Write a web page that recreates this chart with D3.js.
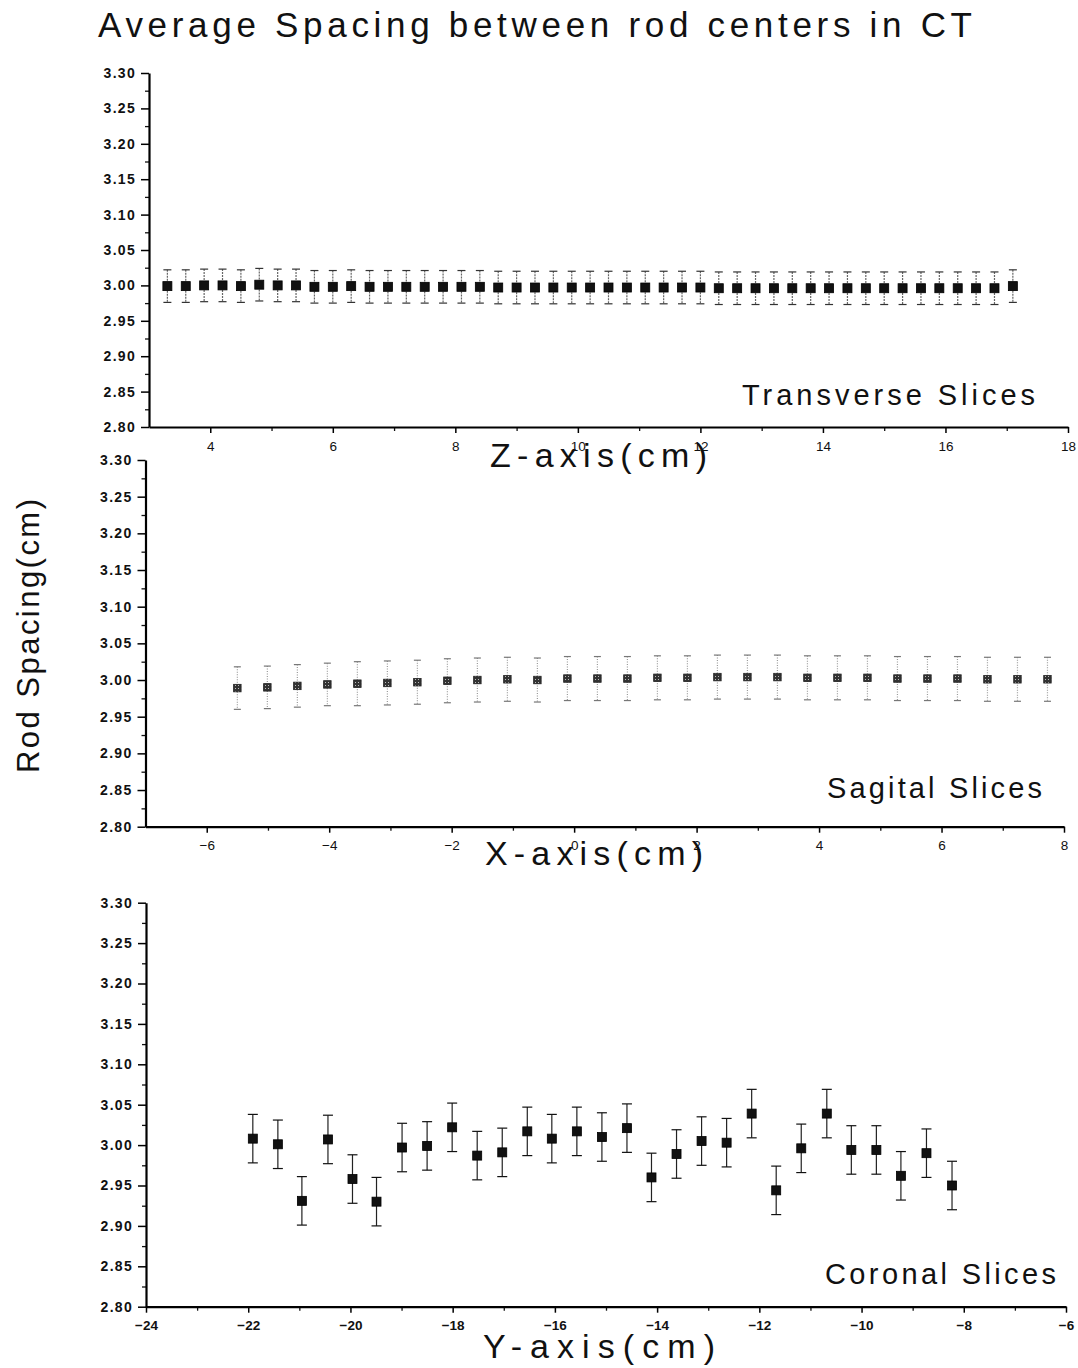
<!DOCTYPE html>
<html><head><meta charset="utf-8">
<script src="https://cdn.jsdelivr.net/npm/d3@7"></script>
<style>
body{margin:0;background:#fff}
text{font-family:"Liberation Sans",Arial,Helvetica,sans-serif;fill:#111}
</style>
</head><body>
<svg id="chart" width="1078" height="1368"></svg>
<script>
// ---------------- data ----------------
const titleText = "Average Spacing between rod centers in CT";
const yAxisTitle = "Rod Spacing(cm)";
const yTickValues = [2.80, 2.85, 2.90, 2.95, 3.00, 3.05, 3.10, 3.15, 3.20, 3.25, 3.30];
const yMinorValues = [2.825, 2.875, 2.925, 2.975, 3.025, 3.075, 3.125, 3.175, 3.225, 3.275];

// Transverse slices (Z-axis)
const transverseX = [3.3,3.6,3.9,4.2,4.5,4.8,5.1,5.4,5.7,6.0,6.3,6.6,6.9,7.2,7.5,7.8,8.1,8.4,8.7,9.0,9.3,9.6,9.9,10.2,10.5,10.8,11.1,11.4,11.7,12.0,12.3,12.6,12.9,13.2,13.5,13.8,14.1,14.4,14.7,15.0,15.3,15.6,15.9,16.2,16.5,16.8,17.1];
const transverseY = [2.999,2.999,3.000,3.000,2.999,3.001,3.000,3.000,2.998,2.998,2.999,2.998,2.998,2.998,2.998,2.998,2.998,2.998,2.997,2.997,2.997,2.997,2.997,2.997,2.997,2.997,2.997,2.997,2.997,2.997,2.996,2.996,2.996,2.996,2.996,2.996,2.996,2.996,2.996,2.996,2.996,2.996,2.996,2.996,2.996,2.996,2.999];
const transverseErr = [0.023,0.023,0.023,0.023,0.023,0.023,0.023,0.023,0.023,0.023,0.023,0.023,0.023,0.023,0.023,0.023,0.023,0.023,0.023,0.023,0.023,0.023,0.023,0.023,0.023,0.023,0.023,0.023,0.023,0.023,0.023,0.023,0.023,0.023,0.023,0.023,0.023,0.023,0.023,0.023,0.023,0.023,0.023,0.023,0.023,0.023,0.023];
const transverseXTicks = [4,6,8,10,12,14,16,18];
const transverseXMinor = [5,7,9,11,13,15,17];

// Sagital slices (X-axis)
const sagitalX = [-5.50,-5.01,-4.52,-4.03,-3.54,-3.05,-2.56,-2.07,-1.58,-1.09,-0.60,-0.11,0.38,0.87,1.36,1.85,2.34,2.83,3.32,3.81,4.30,4.79,5.28,5.77,6.26,6.75,7.24,7.73];
const sagitalY = [2.989,2.990,2.992,2.994,2.995,2.996,2.997,2.999,3.000,3.001,3.000,3.002,3.002,3.002,3.003,3.003,3.004,3.004,3.004,3.003,3.003,3.003,3.002,3.002,3.002,3.001,3.001,3.001];
const sagitalErr = [0.029,0.029,0.029,0.029,0.030,0.030,0.030,0.030,0.030,0.030,0.030,0.030,0.030,0.030,0.030,0.030,0.030,0.030,0.030,0.030,0.030,0.030,0.030,0.030,0.030,0.030,0.030,0.030];
const sagitalXTicks = [-6,-4,-2,0,2,4,6,8];
const sagitalXMinor = [-5,-3,-1,1,3,5,7];

// Coronal slices (Y-axis)
const coronalX = [-21.91,-21.42,-20.95,-20.44,-19.96,-19.49,-18.99,-18.50,-18.01,-17.52,-17.03,-16.54,-16.06,-15.57,-15.08,-14.59,-14.11,-13.62,-13.13,-12.64,-12.15,-11.67,-11.18,-10.68,-10.20,-9.71,-9.23,-8.73,-8.23];
const coronalY = [3.008,3.001,2.931,3.007,2.958,2.930,2.997,2.999,3.022,2.987,2.991,3.017,3.008,3.017,3.010,3.021,2.960,2.989,3.005,3.003,3.039,2.944,2.996,3.039,2.994,2.994,2.962,2.990,2.950];
const coronalErr = [0.030,0.030,0.030,0.030,0.030,0.030,0.030,0.030,0.030,0.030,0.030,0.030,0.030,0.030,0.030,0.030,0.030,0.030,0.030,0.030,0.030,0.030,0.030,0.030,0.030,0.030,0.030,0.030,0.030];
const coronalXTicks = [-24,-22,-20,-18,-16,-14,-12,-10,-8,-6];
const coronalXMinor = [-23,-21,-19,-17,-15,-13,-11,-9,-7];

const panelNames = ["Transverse Slices", "Sagital Slices", "Coronal Slices"];
const xTitles = ["Z-axis(cm)", "X-axis(cm)", "Y-axis(cm)"];

// ---------------- drawing ----------------
const svg = d3.select("#chart");
svg.append("rect").attr("width",1078).attr("height",1368).attr("fill","#fff");

const defs = svg.append("defs");
const pat = defs.append("pattern").attr("id","hatch").attr("patternUnits","userSpaceOnUse")
  .attr("width",3).attr("height",3);
pat.append("rect").attr("width",3).attr("height",3).attr("fill","#333");
pat.append("rect").attr("x",1).attr("y",1).attr("width",1).attr("height",1).attr("fill","#bbb");

function stretchText(sel, len){
  sel.attr("textLength", len).attr("lengthAdjust","spacing");
}

// title
stretchText(svg.append("text").attr("x",98).attr("y",37)
  .attr("font-size",35).text(titleText), 874);

// rotated y title
stretchText(svg.append("text")
  .attr("transform","translate(39,636) rotate(-90)")
  .attr("text-anchor","middle").attr("font-size",31).text(yAxisTitle), 274);

const panels = [
  {xs:transverseX, ys:transverseY, es:transverseErr, dom:[3,18], xr:[149,1068], yr:[427,73],
   ticks:transverseXTicks, minor:transverseXMinor, name:panelNames[0], nameX:742, nameY:405, nameLen:293,
   xt:xTitles[0], xtX:490, xtY:467, xtLen:217, style:"top", tickWeight:"normal"},
  {xs:sagitalX, ys:sagitalY, es:sagitalErr, dom:[-7,8], xr:[145.5,1064], yr:[826.7,460],
   ticks:sagitalXTicks, minor:sagitalXMinor, name:panelNames[1], nameX:827, nameY:798, nameLen:215,
   xt:xTitles[1], xtX:485, xtY:865, xtLen:218, style:"mid", tickWeight:"normal"},
  {xs:coronalX, ys:coronalY, es:coronalErr, dom:[-24,-6], xr:[146,1066], yr:[1306.7,902.7],
   ticks:coronalXTicks, minor:coronalXMinor, name:panelNames[2], nameX:825, nameY:1284, nameLen:231,
   xt:xTitles[2], xtX:483, xtY:1358, xtLen:232, style:"bot", tickWeight:"bold"}
];

panels.forEach(p => {
  const x = d3.scaleLinear().domain(p.dom).range(p.xr);
  const y = d3.scaleLinear().domain([2.80,3.30]).range(p.yr);
  const g = svg.append("g");

  // minor ticks
  g.append("g").attr("transform",`translate(${p.xr[0]},0)`)
    .call(d3.axisLeft(y).tickValues(yMinorValues).tickSize(4).tickSizeOuter(0).tickFormat(""))
    .call(s=>s.select(".domain").remove())
    .call(s=>s.selectAll("line").attr("stroke","#111").attr("stroke-width",1.3));
  g.append("g").attr("transform",`translate(0,${p.yr[0]})`)
    .call(d3.axisBottom(x).tickValues(p.minor).tickSize(4).tickSizeOuter(0).tickFormat(""))
    .call(s=>s.select(".domain").remove())
    .call(s=>s.selectAll("line").attr("stroke","#111").attr("stroke-width",1.3));

  // major y axis
  const ya = g.append("g").attr("transform",`translate(${p.xr[0]},0)`)
    .call(d3.axisLeft(y).tickValues(yTickValues).tickSize(8).tickPadding(5).tickSizeOuter(0)
      .tickFormat(d3.format(".2f")));
  ya.select(".domain").attr("stroke","#000").attr("stroke-width",2.2);
  ya.selectAll("line").attr("stroke","#000").attr("stroke-width",1.5);
  ya.selectAll("text").attr("font-size",14).attr("font-weight","bold")
    .attr("letter-spacing","1.3px").attr("fill","#111")
    .style("font-family",'"Liberation Sans",Arial,sans-serif');

  // major x axis
  const xa = g.append("g").attr("transform",`translate(0,${p.yr[0]})`)
    .call(d3.axisBottom(x).tickValues(p.ticks).tickSize(6).tickPadding(8).tickSizeOuter(0)
      .tickFormat(d3.format("d")));
  xa.select(".domain").attr("stroke","#000").attr("stroke-width",2.2);
  xa.selectAll("line").attr("stroke","#000").attr("stroke-width",1.5);
  xa.selectAll("text").attr("font-size",13.5).attr("font-weight",p.tickWeight)
    .attr("fill","#111").style("font-family",'"Liberation Sans",Arial,sans-serif');

  // data
  const data = p.xs.map((v,i)=>({x:v, y:p.ys[i], e:p.es[i]}));
  const marks = g.append("g");
  let capW, sz, barStroke, barDash, capStroke, fill, mStroke;
  if (p.style==="top"){ capW=8; sz=9; barStroke="#666"; barDash="2,1"; capStroke="#333"; fill="#111"; mStroke="#000"; }
  else if (p.style==="mid"){ capW=7; sz=7.5; barStroke="#9a9a9a"; barDash="1,1.5"; capStroke="#777"; fill="url(#hatch)"; mStroke="#222"; }
  else { capW=10; sz=9; barStroke="#222"; barDash=null; capStroke="#111"; fill="#111"; mStroke="#000"; }

  const eb = marks.selectAll("g.eb").data(data).enter().append("g").attr("class","eb");
  eb.append("line")
    .attr("x1",d=>x(d.x)).attr("x2",d=>x(d.x))
    .attr("y1",d=>y(d.y+d.e)).attr("y2",d=>y(d.y-d.e))
    .attr("stroke",barStroke).attr("stroke-width",1.2)
    .attr("stroke-dasharray",barDash);
  eb.append("line")
    .attr("x1",d=>x(d.x)-capW/2).attr("x2",d=>x(d.x)+capW/2)
    .attr("y1",d=>y(d.y+d.e)).attr("y2",d=>y(d.y+d.e))
    .attr("stroke",capStroke).attr("stroke-width",1.2);
  eb.append("line")
    .attr("x1",d=>x(d.x)-capW/2).attr("x2",d=>x(d.x)+capW/2)
    .attr("y1",d=>y(d.y-d.e)).attr("y2",d=>y(d.y-d.e))
    .attr("stroke",capStroke).attr("stroke-width",1.2);
  marks.selectAll("rect.m").data(data).enter().append("rect").attr("class","m")
    .attr("x",d=>x(d.x)-sz/2).attr("y",d=>y(d.y)-sz/2)
    .attr("width",sz).attr("height",sz)
    .attr("fill",fill).attr("stroke",mStroke).attr("stroke-width",0.8);

  // panel name
  stretchText(svg.append("text").attr("x",p.nameX).attr("y",p.nameY)
    .attr("font-size",29).text(p.name), p.nameLen);
  // x title
  stretchText(svg.append("text").attr("x",p.xtX).attr("y",p.xtY)
    .attr("font-size",34).text(p.xt), p.xtLen);
});
</script>
</body></html>
